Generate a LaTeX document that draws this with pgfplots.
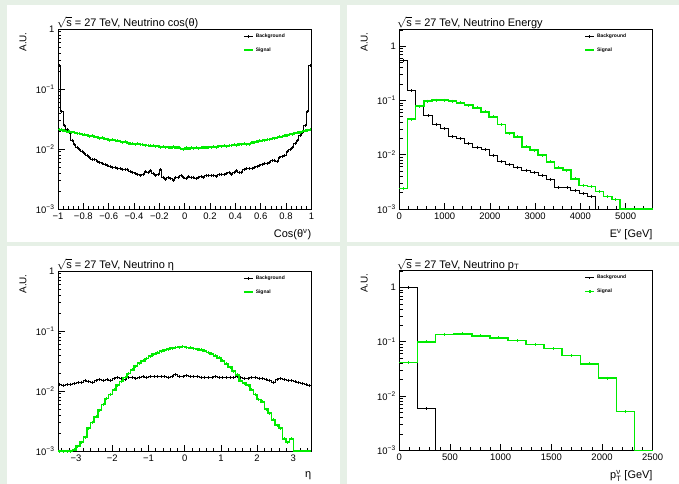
\documentclass[border=0pt]{standalone}
\usepackage{fontspec}
\setmainfont{Liberation Sans}
\usepackage{amsmath}
\usepackage{pgfplots}
\pgfplotsset{compat=1.18}
\usepackage{pgfplotstable}

\definecolor{padbg}{RGB}{230,240,230}
\definecolor{sig}{RGB}{0,235,0}

% ---- cos(theta), 100 bins, left edges ----
\pgfplotstableread{
x y
-1.00 0.245
-0.98 0.042
-0.96 0.025
-0.94 0.021
-0.92 0.0185
-0.90 0.0140
-0.88 0.0120
-0.86 0.0106
-0.84 0.0098
-0.82 0.0092
-0.80 0.0085
-0.78 0.0078
-0.76 0.0073
-0.74 0.0068
-0.72 0.0066
-0.70 0.0062
-0.68 0.0060
-0.66 0.0057
-0.64 0.0055
-0.62 0.0054
-0.60 0.0052
-0.58 0.0050
-0.56 0.0050
-0.54 0.0048
-0.52 0.0047
-0.50 0.0046
-0.48 0.0045
-0.46 0.0046
-0.44 0.0042
-0.42 0.0041
-0.40 0.0039
-0.38 0.0038
-0.36 0.0036
-0.34 0.0038
-0.32 0.0042
-0.30 0.0040
-0.28 0.0043
-0.26 0.0039
-0.24 0.0036
-0.22 0.0038
-0.20 0.0045
-0.18 0.0034
-0.16 0.0031
-0.14 0.0033
-0.12 0.0032
-0.10 0.0030
-0.08 0.0033
-0.06 0.0034
-0.04 0.0036
-0.02 0.0033
0.00 0.0032
0.02 0.0035
0.04 0.0033
0.06 0.0034
0.08 0.0032
0.10 0.0034
0.12 0.0035
0.14 0.0033
0.16 0.0036
0.18 0.0036
0.20 0.0036
0.22 0.0036
0.24 0.0035
0.26 0.0037
0.28 0.0038
0.30 0.0037
0.32 0.0039
0.34 0.0040
0.36 0.0038
0.38 0.0041
0.40 0.0043
0.42 0.0040
0.44 0.0041
0.46 0.0046
0.48 0.0047
0.50 0.0047
0.52 0.0048
0.54 0.0050
0.56 0.0051
0.58 0.0054
0.60 0.0056
0.62 0.0058
0.64 0.0058
0.66 0.0060
0.68 0.0064
0.70 0.0065
0.72 0.0063
0.74 0.0072
0.76 0.0075
0.78 0.0077
0.80 0.0090
0.82 0.0100
0.84 0.0108
0.86 0.0125
0.88 0.0140
0.90 0.0170
0.92 0.0190
0.94 0.0245
0.96 0.042
0.98 0.245
1.00 0.245
}\cosB

\pgfplotstableread{
x y
-1.00 0.0212
-0.98 0.0208
-0.96 0.0201
-0.94 0.0199
-0.92 0.0193
-0.90 0.0190
-0.88 0.0188
-0.86 0.0181
-0.84 0.0180
-0.82 0.0174
-0.80 0.0172
-0.78 0.0170
-0.76 0.0164
-0.74 0.0165
-0.72 0.0159
-0.70 0.0157
-0.68 0.0150
-0.66 0.0153
-0.64 0.0147
-0.62 0.0146
-0.60 0.0141
-0.58 0.0144
-0.56 0.0138
-0.54 0.0136
-0.52 0.0134
-0.50 0.0128
-0.48 0.0131
-0.46 0.0127
-0.44 0.0122
-0.42 0.0124
-0.40 0.0120
-0.38 0.0122
-0.36 0.0118
-0.34 0.0119
-0.32 0.0116
-0.30 0.0115
-0.28 0.0113
-0.26 0.0115
-0.24 0.0110
-0.22 0.0112
-0.20 0.0108
-0.18 0.0110
-0.16 0.0106
-0.14 0.0108
-0.12 0.0105
-0.10 0.0109
-0.08 0.0104
-0.06 0.0107
-0.04 0.0102
-0.02 0.0098
0.00 0.0104
0.02 0.0101
0.04 0.0105
0.06 0.0103
0.08 0.0106
0.10 0.0102
0.12 0.0104
0.14 0.0107
0.16 0.0105
0.18 0.0108
0.20 0.0106
0.22 0.0109
0.24 0.0108
0.26 0.0111
0.28 0.0110
0.30 0.0113
0.32 0.0112
0.34 0.0115
0.36 0.0114
0.38 0.0118
0.40 0.0116
0.42 0.0121
0.44 0.0119
0.46 0.0124
0.48 0.0120
0.50 0.0118
0.52 0.0126
0.54 0.0130
0.56 0.0132
0.58 0.0136
0.60 0.0138
0.62 0.0140
0.64 0.0145
0.66 0.0143
0.68 0.0149
0.70 0.0152
0.72 0.0155
0.74 0.0160
0.76 0.0162
0.78 0.0166
0.80 0.0170
0.82 0.0175
0.84 0.0177
0.86 0.0183
0.88 0.0186
0.90 0.0192
0.92 0.0196
0.94 0.0201
0.96 0.0206
0.98 0.0212
1.00 0.0212
}\cosS

% ---- energy, 31 bins over 0..5600 ----
\pgfplotstableread{
x y
0 0.55
180.65 0.150
361.29 0.076
541.94 0.052
722.58 0.0366
903.23 0.030
1083.87 0.0214
1264.52 0.0196
1445.16 0.0160
1625.81 0.0138
1806.45 0.0125
1987.10 0.0098
2167.74 0.0075
2348.39 0.0066
2529.03 0.0057
2709.68 0.0052
2890.32 0.0047
3070.97 0.0042
3251.61 0.0035
3432.26 0.0025
3612.90 0.0025
3793.55 0.0022
3974.19 0.0019
4154.84 0.0017
4335.48 0.001
4516.13 0.001
4696.77 0.001
4877.42 0.001
5058.06 0.001
5238.71 0.001
5419.35 0.001
5600 0.001
}\eneB

\pgfplotstableread{
x y
0 0.0024
180.65 0.0455
361.29 0.0785
541.94 0.097
722.58 0.101
903.23 0.101
1083.87 0.097
1264.52 0.090
1445.16 0.082
1625.81 0.073
1806.45 0.0617
1987.10 0.050
2167.74 0.036
2348.39 0.025
2529.03 0.0214
2709.68 0.0140
2890.32 0.0122
3070.97 0.0098
3251.61 0.0074
3432.26 0.0057
3612.90 0.0052
3793.55 0.0036
3974.19 0.0027
4154.84 0.0026
4335.48 0.0021
4516.13 0.0017
4696.77 0.0015
4877.42 0.001
5058.06 0.001
5238.71 0.001
5419.35 0.001
5600 0.001
}\eneS

% ---- eta, 70 bins over -3.5..3.5 ----
\pgfplotstableread{
x y
-3.5 0.0130
-3.4 0.0124
-3.3 0.0126
-3.2 0.0130
-3.1 0.0133
-3.0 0.0137
-2.9 0.0140
-2.8 0.0150
-2.7 0.0143
-2.6 0.0140
-2.5 0.0147
-2.4 0.0153
-2.3 0.0150
-2.2 0.0156
-2.1 0.0150
-2.0 0.0160
-1.9 0.0165
-1.8 0.0162
-1.7 0.0158
-1.6 0.0165
-1.5 0.0170
-1.4 0.0163
-1.3 0.0168
-1.2 0.0172
-1.1 0.0170
-1.0 0.0175
-0.9 0.0172
-0.8 0.0174
-0.7 0.0176
-0.6 0.0173
-0.5 0.0170
-0.4 0.0175
-0.3 0.0190
-0.2 0.0176
-0.1 0.0172
0.0 0.0178
0.1 0.0176
0.2 0.0174
0.3 0.0172
0.4 0.0168
0.5 0.0170
0.6 0.0166
0.7 0.0168
0.8 0.0172
0.9 0.0166
1.0 0.0165
1.1 0.0168
1.2 0.0170
1.3 0.0166
1.4 0.0172
1.5 0.0168
1.6 0.0164
1.7 0.0162
1.8 0.0166
1.9 0.0170
2.0 0.0164
2.1 0.0160
2.2 0.0157
2.3 0.0150
2.4 0.0140
2.5 0.0155
2.6 0.0160
2.7 0.0155
2.8 0.0150
2.9 0.0148
3.0 0.0142
3.1 0.0138
3.2 0.0133
3.3 0.0128
3.4 0.0122
3.5 0.0122
}\etaB

\pgfplotstableread{
x y
-3.5 0.001
-3.4 0.001
-3.3 0.001
-3.2 0.001
-3.1 0.00105
-3.0 0.0012
-2.9 0.0014
-2.8 0.0017
-2.7 0.0024
-2.6 0.0030
-2.5 0.0037
-2.4 0.0048
-2.3 0.0060
-2.2 0.0075
-2.1 0.0088
-2.0 0.0105
-1.9 0.0125
-1.8 0.0145
-1.7 0.0168
-1.6 0.0195
-1.5 0.0225
-1.4 0.026
-1.3 0.029
-1.2 0.032
-1.1 0.035
-1.0 0.038
-0.9 0.041
-0.8 0.0435
-0.7 0.046
-0.6 0.048
-0.5 0.050
-0.4 0.052
-0.3 0.053
-0.2 0.054
-0.1 0.055
0.0 0.0535
0.1 0.0525
0.2 0.0515
0.3 0.050
0.4 0.0485
0.5 0.0465
0.6 0.044
0.7 0.0415
0.8 0.0385
0.9 0.0355
1.0 0.032
1.1 0.0285
1.2 0.025
1.3 0.0215
1.4 0.0185
1.5 0.0148
1.6 0.0135
1.7 0.0125
1.8 0.0105
1.9 0.0088
2.0 0.0072
2.1 0.0066
2.2 0.0050
2.3 0.0043
2.4 0.0033
2.5 0.0027
2.6 0.0024
2.7 0.0016
2.8 0.0014
2.9 0.0016
3.0 0.001
3.1 0.001
3.2 0.001
3.3 0.001
3.4 0.001
3.5 0.001
}\etaS

% ---- pT, 14 bins over 0..2500 ----
\pgfplotstableread{
x y
0 1.0
178.57 0.0058
357.14 0.001
535.71 0.001
714.29 0.001
892.86 0.001
1071.43 0.001
1250 0.001
1428.57 0.001
1607.14 0.001
1785.71 0.001
1964.29 0.001
2142.86 0.001
2321.43 0.001
2500 0.001
}\ptB

\pgfplotstableread{
x y
0 0.0418
178.57 0.0996
357.14 0.136
535.71 0.140
714.29 0.128
892.86 0.118
1071.43 0.105
1250 0.089
1428.57 0.0748
1607.14 0.0555
1785.71 0.039
1964.29 0.0214
2142.86 0.00515
2321.43 0.001
2500 0.001
}\ptS

\pgfplotsset{
  legend image code/.code={
    \draw[#1] (0bp,0bp) -- (9bp,0bp);
    \draw[#1] (4.5bp,-1.2bp) -- (4.5bp,1.2bp);
  },
  every axis/.append style={
    scale only axis, width=253.4bp, height=180bp, clip=false,
    axis line style={line width=0.8bp},
    tick align=inside, tick pos=left,
    major tick length=6.5bp, minor tick length=3.3bp,
    tick style={black, line width=0.6bp},
    tick label style={font=\fontsize{9.5}{11}\selectfont},
    ylabel style={at={(rel axis cs:-0.138,0.983)}, anchor=east, inner sep=0pt, font=\fontsize{10}{12}\selectfont},
    xlabel style={at={(rel axis cs:1,0)}, anchor=north east, inner sep=0pt, yshift=-20bp, font=\fontsize{11}{13}\selectfont},
    legend style={draw=none, fill=none, at={(rel axis cs:0.73,0.985)}, anchor=north west,
                  font=\fontsize{5}{6}\selectfont\bfseries, row sep=4.5bp, inner sep=0pt},
    legend cell align=left,
  },
}

\begin{document}
\begin{tikzpicture}
\fill[padbg] (0bp,0bp) rectangle (679bp,-484bp);
\fill[white] (7bp,-5bp) rectangle (340bp,-242bp);
\fill[white] (347bp,-5bp) rectangle (679bp,-242bp);
\fill[white] (7bp,-246bp) rectangle (340bp,-484bp);
\fill[white] (347bp,-246bp) rectangle (679bp,-484bp);

% top left: cos(theta)
\begin{axis}[at={(58bp,-209bp)}, anchor=south west,
  ymode=log, ymin=1e-3, ymax=1,
  ytick={0.001,0.01,0.1,1},
  yticklabels={10\textsuperscript{−3},10\textsuperscript{−2},10\textsuperscript{−1},1},
  minor ytick={0.002,0.003,0.004,0.005,0.006,0.007,0.008,0.009,0.02,0.03,0.04,0.05,0.06,0.07,0.08,0.09,0.2,0.3,0.4,0.5,0.6,0.7,0.8,0.9},
  xmin=-1, xmax=1,
  xtick={-1,-0.8,-0.6,-0.4,-0.2,0,0.2,0.4,0.6,0.8,1},
  xticklabels={−1,−0.8,−0.6,−0.4,−0.2,0,0.2,0.4,0.6,0.8,1},
  minor x tick num=4,
  ylabel={A.U.}, xlabel={Cos(θ$^{\text{ν}}$)}]
\addplot[black, line width=1bp, const plot] table {\cosB};
\addlegendentry{Background}
\addplot[sig, line width=1.6bp, const plot] table {\cosS};
\addlegendentry{Signal}
\addplot[black, only marks, mark=|, mark size=1.5bp, mark options={line width=0.7bp}, forget plot,
  skip coords between index={100}{101}] table[x expr=\thisrow{x}+0.01, y=y] {\cosB};
\addplot[sig, only marks, mark=|, mark size=1.5bp, mark options={line width=0.9bp}, forget plot,
  skip coords between index={100}{101}] table[x expr=\thisrow{x}+0.01, y=y] {\cosS};
\end{axis}
\node[anchor=base west, inner sep=0pt, font=\fontsize{11}{13}\selectfont] at (57bp,-26bp)
  {$\sqrt{\text{s}}$ = 27 TeV, Neutrino cos(θ)};

% top right: energy
\begin{axis}[at={(399.3bp,-209bp)}, anchor=south west,
  ymode=log, ymin=1e-3, ymax=2.07,
  ytick={0.001,0.01,0.1,1},
  yticklabels={10\textsuperscript{−3},10\textsuperscript{−2},10\textsuperscript{−1},1},
  minor ytick={0.002,0.003,0.004,0.005,0.006,0.007,0.008,0.009,0.02,0.03,0.04,0.05,0.06,0.07,0.08,0.09,0.2,0.3,0.4,0.5,0.6,0.7,0.8,0.9,2},
  xmin=0, xmax=5600,
  xtick={0,1000,2000,3000,4000,5000},
  xticklabels={0,1000,2000,3000,4000,5000},
  minor xtick={200,400,...,5400},
  ylabel={A.U.}, xlabel={E$^{\text{ν}}$ [GeV]}]
\addplot[black, line width=1bp, const plot] table {\eneB};
\addlegendentry{Background}
\addplot[sig, line width=1.6bp, const plot] table {\eneS};
\addlegendentry{Signal}
\addplot[black, only marks, mark=|, mark size=1.5bp, mark options={line width=0.7bp}, forget plot,
  skip coords between index={24}{32}] table[x expr=\thisrow{x}+90.32, y=y] {\eneB};
\addplot[sig, only marks, mark=|, mark size=1.5bp, mark options={line width=0.9bp}, forget plot,
  skip coords between index={27}{32}] table[x expr=\thisrow{x}+90.32, y=y] {\eneS};
\end{axis}
\node[anchor=base west, inner sep=0pt, font=\fontsize{11}{13}\selectfont] at (397bp,-26bp)
  {$\sqrt{\text{s}}$ = 27 TeV, Neutrino Energy};

% bottom left: eta
\begin{axis}[at={(58bp,-451bp)}, anchor=south west,
  ymode=log, ymin=1e-3, ymax=1,
  ytick={0.001,0.01,0.1,1},
  yticklabels={10\textsuperscript{−3},10\textsuperscript{−2},10\textsuperscript{−1},1},
  minor ytick={0.002,0.003,0.004,0.005,0.006,0.007,0.008,0.009,0.02,0.03,0.04,0.05,0.06,0.07,0.08,0.09,0.2,0.3,0.4,0.5,0.6,0.7,0.8,0.9},
  xmin=-3.5, xmax=3.5,
  xtick={-3,-2,-1,0,1,2,3},
  xticklabels={−3,−2,−1,0,1,2,3},
  minor xtick={-3.4,-3.2,...,3.4},
  ylabel={A.U.}, xlabel={η}]
\addplot[black, line width=1bp, const plot] table {\etaB};
\addlegendentry{Background}
\addplot[sig, line width=1.6bp, const plot] table {\etaS};
\addlegendentry{Signal}
\addplot[black, only marks, mark=|, mark size=1.5bp, mark options={line width=0.7bp}, forget plot,
  skip coords between index={70}{71}] table[x expr=\thisrow{x}+0.05, y=y] {\etaB};
\addplot[sig, only marks, mark=|, mark size=1.5bp, mark options={line width=0.9bp}, forget plot,
  skip coords between index={65}{71}] table[x expr=\thisrow{x}+0.05, y=y] {\etaS};
\end{axis}
\node[anchor=base west, inner sep=0pt, font=\fontsize{11}{13}\selectfont] at (57bp,-268bp)
  {$\sqrt{\text{s}}$ = 27 TeV, Neutrino η};

% bottom right: pT
\begin{axis}[at={(399.3bp,-450.3bp)}, anchor=south west,
  ymode=log, ymin=1e-3, ymax=2.07,
  ytick={0.001,0.01,0.1,1},
  yticklabels={10\textsuperscript{−3},10\textsuperscript{−2},10\textsuperscript{−1},1},
  minor ytick={0.002,0.003,0.004,0.005,0.006,0.007,0.008,0.009,0.02,0.03,0.04,0.05,0.06,0.07,0.08,0.09,0.2,0.3,0.4,0.5,0.6,0.7,0.8,0.9,2},
  xmin=0, xmax=2500,
  xtick={0,500,1000,1500,2000,2500},
  xticklabels={0,500,1000,1500,2000,2500},
  minor xtick={100,200,...,2400},
  ylabel={A.U.}, xlabel={p$^{\text{ν}}_{\text{T}}$ [GeV]}]
\addplot[black, line width=1bp, const plot] table {\ptB};
\addlegendentry{Background}
\addplot[sig, line width=1.6bp, const plot] table {\ptS};
\addlegendentry{Signal}
\addplot[black, only marks, mark=|, mark size=1.5bp, mark options={line width=0.7bp}, forget plot,
  skip coords between index={2}{15}] table[x expr=\thisrow{x}+89.29, y=y] {\ptB};
\addplot[sig, only marks, mark=|, mark size=1.5bp, mark options={line width=0.9bp}, forget plot,
  skip coords between index={13}{15}] table[x expr=\thisrow{x}+89.29, y=y] {\ptS};
\end{axis}
\node[anchor=base west, inner sep=0pt, font=\fontsize{11}{13}\selectfont] at (397bp,-268bp)
  {$\sqrt{\text{s}}$ = 27 TeV, Neutrino p$_{\text{T}}$};
\end{tikzpicture}
\end{document}
